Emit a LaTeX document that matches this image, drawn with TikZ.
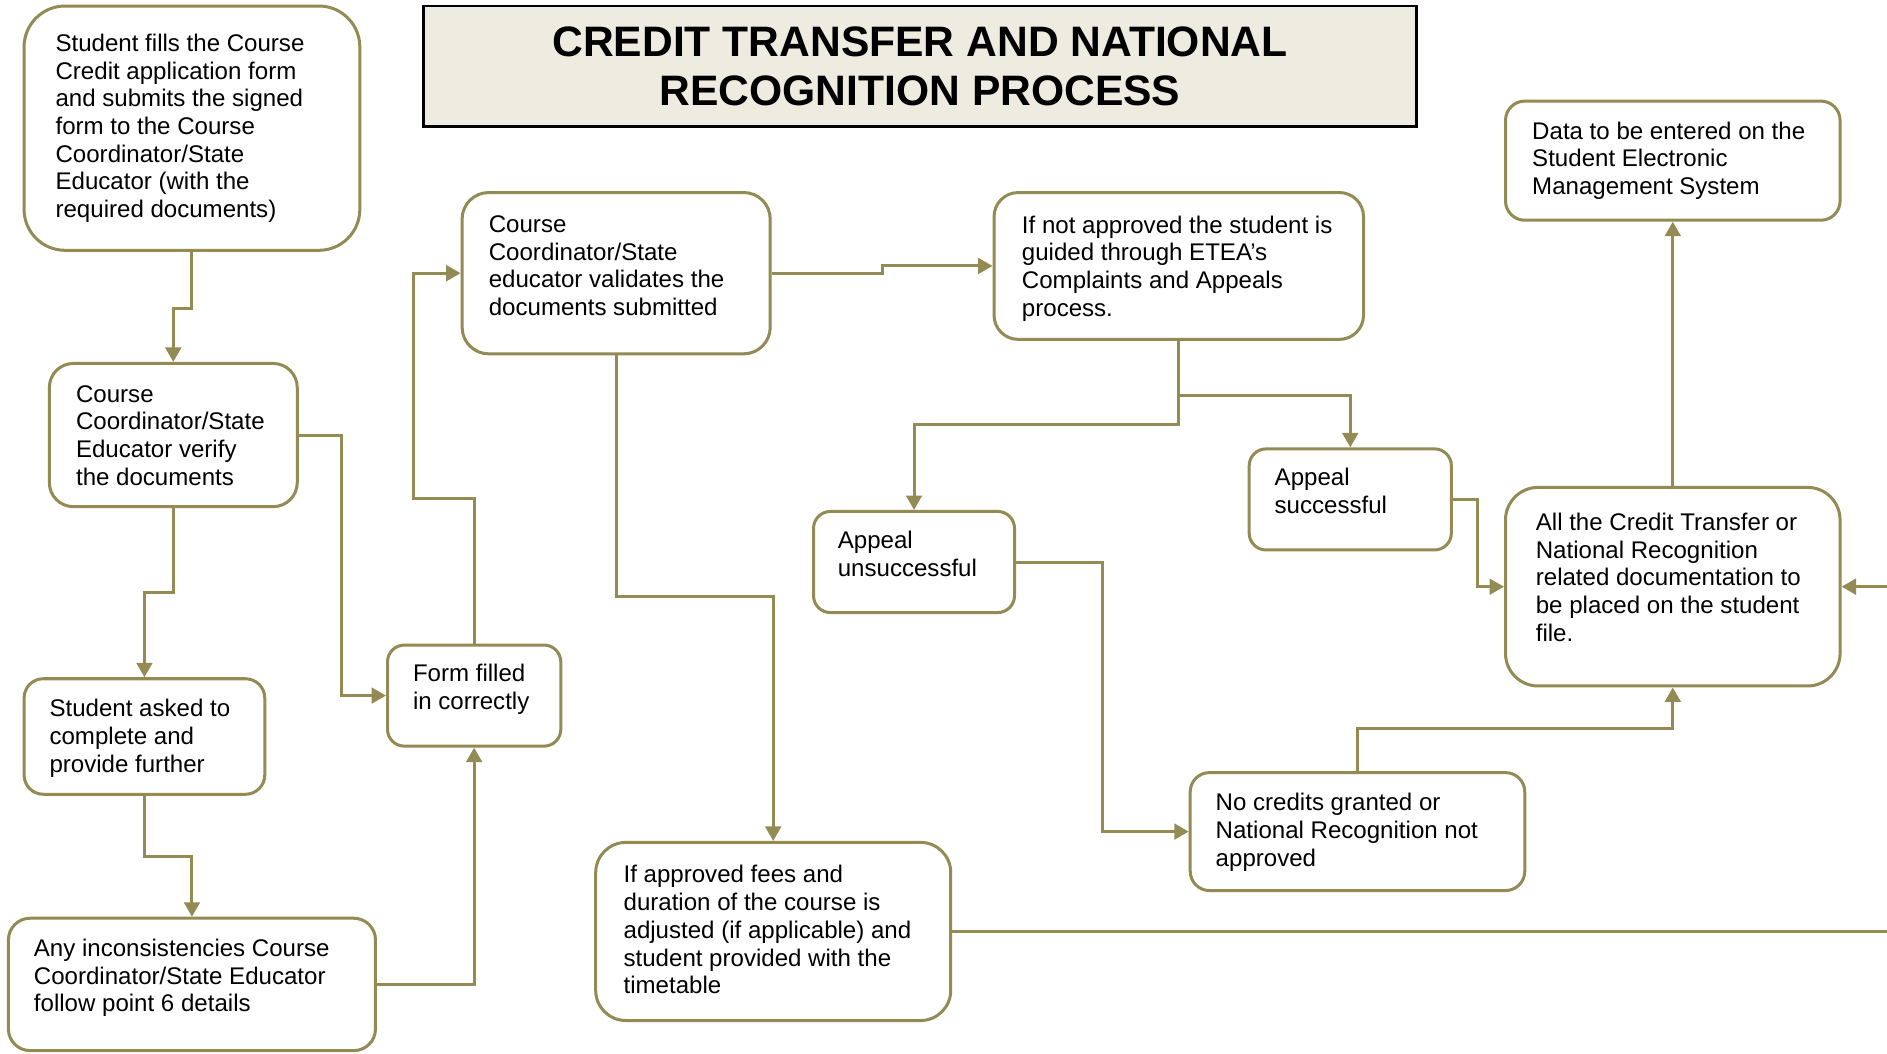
\documentclass[tikz,border=0pt]{standalone}
\usepackage{fontspec}
\setmainfont{Liberation Sans}
\usetikzlibrary{arrows.meta}
\definecolor{linecol}{HTML}{948A54}
\definecolor{titlefill}{HTML}{EEECE1}
\newcommand\mkbox[6]{%
 \pgfmathsetmacro\bxcx{(#2+#4)/2}\pgfmathsetmacro\bxcy{(#3+#5)/2}%
 \pgfmathsetmacro\bxw{#4-#2}\pgfmathsetmacro\bxh{#5-#3}%
 \node[box, rounded corners=#6pt, minimum width=\bxw pt, minimum height=\bxh pt] (#1) at (\bxcx,\bxcy) {};}
\begin{document}
\begin{tikzpicture}[x=1pt,y=-1pt,
  box/.style={draw=linecol, line width=2.5pt, fill=white, inner sep=0pt},
  txt/.style={inner sep=0pt, align=left, anchor=north west, font=\fontsize{20}{23}\selectfont},
  arr/.style={draw=linecol, line width=2.5pt, -{Triangle[length=12pt,width=13pt]}},
  ln/.style={draw=linecol, line width=2.5pt}]
\path[use as bounding box, fill=white] (0,0) rectangle (1568,875);

% title
\node[draw=black, line width=2pt, fill=titlefill, minimum width=825pt, minimum height=100pt, inner sep=0pt] (title) at (764.5,55) {};
\node[inner sep=0pt, align=center, font=\fontsize{35.4}{41}\selectfont\bfseries] (titletext) at (764.5,55) {CREDIT TRANSFER AND NATIONAL\\RECOGNITION PROCESS};

% boxes
\mkbox{b1}{20}{5}{299}{208}{34}
\mkbox{b2}{41}{302}{247}{421}{20}
\mkbox{b3}{20}{564}{220}{660}{16}
\mkbox{b4}{7}{763}{312}{873}{18}
\mkbox{b5}{322}{536}{466}{620}{14}
\mkbox{b6}{384}{160}{640}{294}{22}
\mkbox{b7}{495}{700}{790}{848}{25}
\mkbox{b8}{826}{160}{1133}{282}{20}
\mkbox{b9}{676}{425}{843}{509}{14}
\mkbox{b10}{1038}{373}{1206}{457}{14}
\mkbox{b11}{989}{642}{1267}{740}{16}
\mkbox{b12}{1251}{405}{1529}{570}{27}
\mkbox{b13}{1251}{84}{1529}{183}{16}

% texts
\node[txt] (t1) at (46,28) {Student fills the Course\\Credit application form\\and submits the signed\\form to the Course\\Coordinator/State\\Educator (with the\\required documents)};
\node[txt] (t2) at (63,320) {Course\\Coordinator/State\\Educator verify\\the documents};
\node[txt] (t3) at (41,581) {Student asked to\\complete and\\provide further};
\node[txt] (t4) at (28,780) {Any inconsistencies Course\\Coordinator/State Educator\\follow point 6 details};
\node[txt] (t5) at (343,552) {Form filled\\in correctly};
\node[txt] (t6) at (406,179) {Course\\Coordinator/State\\educator validates the\\documents submitted};
\node[txt] (t7) at (518,719) {If approved fees and\\duration of the course is\\adjusted (if applicable) and\\student provided with the\\timetable};
\node[txt] (t8) at (849,179) {If not approved the student is\\guided through ETEA’s\\Complaints and Appeals\\process.};
\node[txt] (t9) at (696,441) {Appeal\\unsuccessful};
\node[txt] (t10) at (1059,389) {Appeal\\successful};
\node[txt] (t11) at (1010,659) {No credits granted or\\National Recognition not\\approved};
\node[txt] (t12) at (1276,426) {All the Credit Transfer or\\National Recognition\\related documentation to\\be placed on the student\\file.};
\node[txt] (t13) at (1273,101) {Data to be entered on the\\Student Electronic\\Management System};

% connectors
\draw[arr] (b1.south) |- (144,256) -- (b2.north);
\draw[arr] (b2.south) |- (120,492) -- (b3.north);
\draw[arr] (b3.south) |- (159.5,712) -- (b4.north);
\draw[arr] (b4.east) -| (b5.south);
\draw[arr] (b2.east) -- (284,361.5) |- (b5.west);
\draw[arr] (b5.north) |- (344,414) |- (b6.west);
\draw[arr] (b6.east) -- (733,227) |- (b8.west);
\draw[arr] (b6.south) |- (642.5,496) -- (b7.north);
\draw[arr] (b8.south) |- (759.5,353) -- (b9.north);
\path (b8.south) ++(0,45) coordinate (split);
\draw[arr] (split) -| (b10.north);
\draw[arr] (b10.east) -- (1228,415) |- (b12.west);
\draw[arr] (b9.east) -- (916,467) |- (b11.west);
\draw[arr] (b11.north) |- (1390,605) -- (b12.south);
\draw[arr] (b12.north) -- (b13.south);
\draw[arr] (b7.east) -- (1569.5,774) |- (b12.east);
\end{tikzpicture}
\end{document}
